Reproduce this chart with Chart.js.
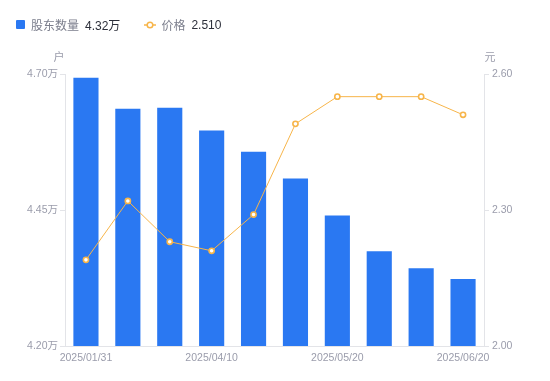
<!DOCTYPE html>
<html><head><meta charset="utf-8">
<script src="https://cdn.jsdelivr.net/npm/chart.js@4.4.1/dist/chart.umd.min.js"></script>
<style>
html,body{margin:0;padding:0;background:#fff;}
#wrap{position:relative;width:550px;height:381px;font-family:"Liberation Sans","Noto Sans CJK SC",sans-serif;}
canvas{display:block;}
#legend{position:absolute;left:16px;top:16px;font-size:12px;display:flex;align-items:center;white-space:nowrap;}
.lg{display:flex;align-items:center;}
.sw{width:9px;height:9px;background:#2a78f2;border-radius:1px;margin-right:6px;}
.lname{color:#7b7e8c;font-family:"Noto Sans CJK SC",sans-serif;}
.lval{color:#2c2f3a;margin-left:6px;}
</style></head>
<body><div id="wrap">
<div id="legend">
 <div class="lg" style="margin-right:24px"><div class="sw"></div><span class="lname">股东数量</span><span class="lval">4.32万</span></div>
 <div class="lg"><svg width="12" height="10" style="margin-right:5px"><line x1="0" y1="5" x2="12" y2="5" stroke="#f7b54a" stroke-width="1.5"/><circle cx="6" cy="5" r="2.8" fill="#fff" stroke="#f7b54a" stroke-width="1.5"/></svg><span class="lname">价格</span><span class="lval">2.510</span></div>
</div>
<canvas id="c" width="550" height="381"></canvas>
</div>
<script>
const dates = ["2025/01/31","2025/02/28","2025/03/20","2025/04/10","2025/04/30","2025/05/09","2025/05/20","2025/05/30","2025/06/10","2025/06/20"];
const holders = [4.693,4.636,4.638,4.596,4.557,4.508,4.440,4.374,4.343,4.323];
const prices = [2.19,2.32,2.23,2.21,2.29,2.49,2.55,2.55,2.55,2.51];
const leftTicks = [4.20,4.45,4.70];
const rightTicks = [2.00,2.30,2.60];

const tickColor = "#9a9cab";
const lineGray = "#e3e4e8";
const fontFam = "'Liberation Sans','Noto Sans CJK SC',sans-serif";

const unitPlugin = {
  id:'units',
  afterDraw(chart){
    const ctx = chart.ctx, a = chart.chartArea;
    ctx.save();
    ctx.fillStyle = tickColor;
    ctx.font = "11px 'Noto Sans CJK SC',sans-serif";
    ctx.textAlign = 'center';
    ctx.textBaseline = 'middle';
    ctx.fillText('户', a.left - 6, 57);
    ctx.fillText('元', a.right + 6, 57);
    ctx.restore();
  }
};

new Chart(document.getElementById('c'), {
  data:{
    labels: dates,
    datasets:[
      {type:'line', label:'价格', data:prices, yAxisID:'y1', order:0,
       borderColor:'#f7b54a', borderWidth:1, tension:0,
       pointRadius:2.6, pointBorderWidth:1.6, pointBackgroundColor:'#fff', pointBorderColor:'#f7b54a'},
      {type:'bar', label:'股东数量', data:holders, yAxisID:'y', order:1,
       backgroundColor:'#2a78f2', barPercentage:0.6, categoryPercentage:1.0}
    ]
  },
  options:{
    responsive:false, animation:false,
    layout:{padding:{top:74,left:0,right:0,bottom:0}},
    plugins:{legend:{display:false}, tooltip:{enabled:false}},
    scales:{
      x:{
        grid:{display:false, drawTicks:false},
        border:{color:lineGray},
        ticks:{autoSkip:false, maxRotation:0, padding:6, color:tickColor, font:{size:10.5,family:fontFam},
          callback:function(v,i){ return i%3===0 ? dates[i] : ''; }},
        afterFit(s){ s.height = 35; }
      },
      y:{
        position:'left', min:4.20, max:4.70,
        afterBuildTicks(s){ s.ticks = leftTicks.map(v=>({value:v})); },
        grid:{drawOnChartArea:false, drawTicks:true, tickLength:5, color:lineGray},
        border:{color:lineGray},
        ticks:{padding:2, color:tickColor, font:{size:10.5,family:fontFam},
          callback:v=>v.toFixed(2)+'万'},
        afterFit(s){ s.width = 65; }
      },
      y1:{
        position:'right', min:2.00, max:2.60,
        afterBuildTicks(s){ s.ticks = rightTicks.map(v=>({value:v})); },
        grid:{drawOnChartArea:false, drawTicks:true, tickLength:5, color:lineGray},
        border:{color:lineGray},
        ticks:{padding:3, color:tickColor, font:{size:10.5,family:fontFam},
          callback:v=>v.toFixed(2)},
        afterFit(s){ s.width = 66; }
      }
    }
  },
  plugins:[unitPlugin]
});
</script>
</body></html>
